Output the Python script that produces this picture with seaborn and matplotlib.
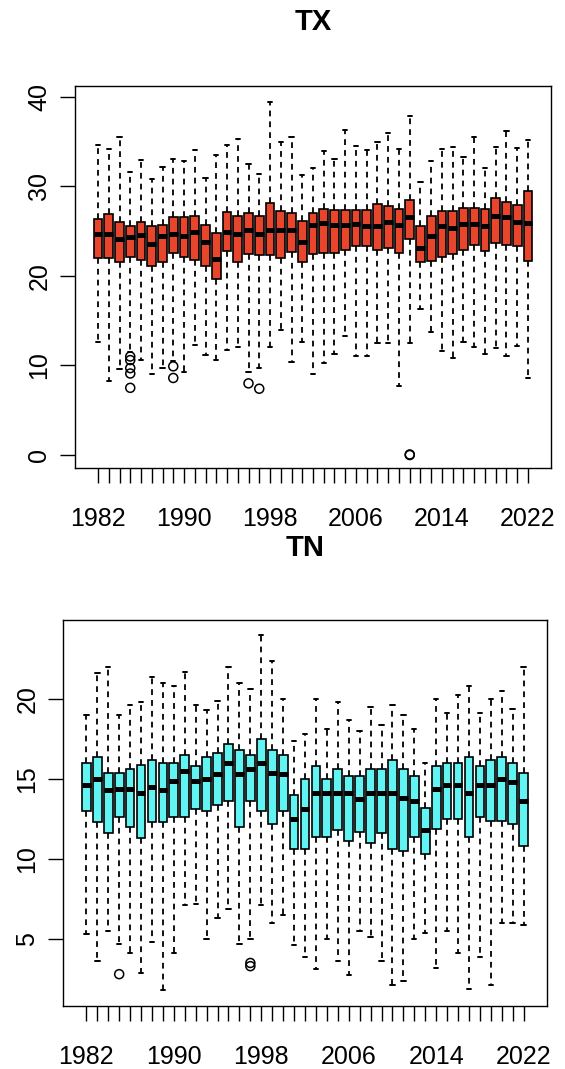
import numpy as np
import pandas as pd
import matplotlib
matplotlib.use("Agg")
import matplotlib.pyplot as plt
import seaborn as sns

sns.set_style("ticks")
plt.rcParams['font.family'] = ['Liberation Sans', 'DejaVu Sans']
plt.rcParams['text.color'] = 'black'
plt.rcParams['xtick.color'] = 'black'
plt.rcParams['ytick.color'] = 'black'
plt.rcParams['axes.edgecolor'] = 'black'

years = list(range(1982, 2023))

# ---- TX (five-number summaries) ----
tx_whishi = [34.6, 34.2, 35.5, 31.6, 32.9, 30.8, 32.2, 33.1, 32.8, 34.1,
             30.9, 33.5, 34.6, 35.3, 32.5, 31.4, 39.4, 34.9, 35.5, 31.3,
             32.1, 33.9, 33.1, 36.3, 34.5, 34.0, 35.0, 36.0, 34.2, 37.8,
             30.5, 32.8, 34.2, 34.4, 33.3, 35.5, 32.1, 34.4, 36.2, 34.3, 35.2]
tx_q3 = [26.4, 26.9, 26.0, 25.6, 26.0, 25.6, 25.7, 26.6, 26.6, 26.7,
         25.7, 24.8, 27.1, 26.7, 27.0, 26.7, 28.1, 27.2, 27.0, 26.1,
         27.0, 27.5, 27.4, 27.4, 27.4, 27.3, 28.0, 27.8, 27.5, 28.5,
         25.6, 26.7, 27.2, 27.2, 27.6, 27.6, 27.5, 28.7, 28.3, 27.9, 29.5]
tx_med = [24.7, 24.7, 24.1, 24.3, 24.6, 23.6, 24.4, 24.7, 24.4, 24.9,
          23.8, 21.9, 24.9, 24.7, 25.1, 24.7, 25.1, 25.1, 25.1, 23.8,
          25.7, 25.9, 25.7, 25.7, 25.8, 25.6, 25.6, 26.0, 25.7, 26.6,
          23.1, 24.4, 25.6, 25.3, 25.8, 25.8, 25.6, 26.7, 26.6, 26.0, 25.9]
tx_q1 = [22.0, 22.0, 21.5, 22.1, 21.8, 21.1, 21.6, 22.6, 22.1, 21.8,
         21.1, 19.7, 22.8, 21.5, 22.4, 22.3, 22.3, 22.0, 22.7, 21.5,
         22.4, 22.6, 22.6, 22.9, 23.3, 23.3, 22.9, 23.1, 22.6, 24.1,
         21.5, 21.7, 22.1, 22.4, 22.9, 23.4, 22.8, 23.7, 23.5, 23.3, 21.7]
tx_whislo = [12.6, 8.3, 9.6, 11.5, 10.6, 9.1, 9.7, 10.5, 9.3, 12.3,
             11.2, 10.6, 11.7, 12.1, 9.3, 9.7, 12.1, 14.0, 10.4, 12.6,
             9.1, 10.3, 11.3, 13.3, 11.0, 11.0, 12.5, 12.5, 7.7, 12.5,
             16.3, 13.7, 11.6, 10.8, 12.6, 12.1, 11.3, 11.9, 11.0, 12.2, 8.6]
tx_out_years = [1985, 1985, 1985, 1985, 1985, 1989, 1989, 1996, 1997, 2011, 2011]
tx_out_vals = [11.0, 10.6, 9.7, 9.1, 7.5, 9.9, 8.6, 8.0, 7.4, 0.0, 0.06]

# ---- TN ----
tn_whishi = [19.0, 21.6, 22.0, 19.0, 19.6, 19.8, 21.4, 21.0, 20.8, 21.7,
             19.6, 19.3, 19.9, 22.0, 21.0, 20.6, 24.0, 22.4, 20.0, 17.4,
             17.8, 20.0, 18.1, 19.8, 18.7, 18.0, 19.5, 18.4, 19.6, 19.0,
             18.1, 16.0, 20.0, 19.1, 20.25, 20.8, 19.1, 20.0, 20.5, 19.4, 22.0]
tn_q3 = [16.0, 16.4, 15.4, 15.4, 15.6, 15.9, 16.2, 16.0, 16.0, 16.5,
         15.8, 16.4, 16.6, 17.2, 16.8, 16.5, 17.5, 16.8, 16.5, 14.0,
         15.0, 15.8, 15.0, 15.6, 15.2, 15.2, 15.6, 15.6, 16.2, 15.6,
         15.2, 13.2, 15.8, 16.0, 16.0, 16.4, 15.8, 16.2, 16.4, 16.0, 15.4]
tn_med = [14.6, 15.0, 14.3, 14.4, 14.4, 14.1, 14.5, 14.3, 14.9, 15.5,
          14.9, 15.0, 15.3, 16.0, 15.3, 15.6, 16.0, 15.4, 15.3, 12.5,
          13.1, 14.1, 14.1, 14.1, 14.1, 13.75, 14.1, 14.1, 14.1, 13.8,
          13.6, 11.8, 14.4, 14.6, 14.6, 14.1, 14.6, 14.6, 15.0, 14.8, 13.6]
tn_q1 = [13.0, 12.3, 11.6, 12.6, 12.0, 11.3, 12.3, 12.3, 12.6, 12.6,
         13.1, 13.0, 13.4, 13.6, 12.0, 13.6, 13.0, 12.2, 13.0, 10.6,
         10.6, 11.4, 11.4, 11.8, 11.1, 11.7, 11.0, 11.6, 10.6, 10.5,
         11.4, 10.3, 11.9, 12.5, 12.5, 11.4, 12.6, 12.4, 12.4, 12.2, 10.8]
tn_whislo = [5.3, 3.6, 5.5, 4.7, 4.1, 2.9, 4.8, 1.8, 4.1, 7.1,
             7.2, 5.0, 6.3, 6.9, 4.7, 5.0, 7.1, 6.0, 6.5, 4.6,
             3.9, 3.1, 5.0, 3.6, 2.75, 5.5, 5.1, 3.6, 2.1, 2.4,
             5.0, 5.35, 3.2, 5.5, 4.1, 1.85, 3.9, 2.1, 6.0, 6.0, 5.9]
tn_out_years = [1985, 1997, 1997]
tn_out_vals = [2.8, 3.5, 3.3]

tx_color = "#E8462C"
tn_color = "#62F3F3"

W, H = 565, 1069
fig = plt.figure(figsize=(W / 100, H / 100), dpi=100)
ax1 = fig.add_axes([75 / W, 1 - 468 / H, (551 - 75) / W, (468 - 86) / H])
ax2 = fig.add_axes([63 / W, 1 - 1006 / H, (547 - 63) / W, (1006 - 620) / H])

FS = 18
labels = [str(y) for y in years]


def panel(ax, lo, q1, med, q3, hi, color, out_years, out_vals, ylim, yticks):
    vals = np.column_stack([lo, q1, med, q3, hi]).ravel()
    df = pd.DataFrame({"year": np.repeat(labels, 5), "value": vals})
    sns.boxplot(data=df, x="year", y="value", order=labels, whis=(0, 100),
                color=color, saturation=1, linecolor="black", linewidth=1.2,
                width=0.8, showfliers=False, ax=ax,
                medianprops=dict(color="black", linewidth=3.6, solid_capstyle="butt"),
                whiskerprops=dict(color="black", linewidth=1.3, linestyle=(0, (3.2, 2.8))),
                capprops=dict(color="black", linewidth=1.4))
    xs = [labels.index(str(y)) for y in out_years]
    ax.scatter(xs, out_vals, s=42, facecolors="none", edgecolors="black",
               linewidths=1.1, zorder=5)
    ax.set_xlim(-2.14, 42.14)
    ax.set_ylim(*ylim)
    ax.set_xlabel("")
    ax.set_ylabel("")
    ax.set_xticks(range(len(years)))
    ax.set_xticklabels([l if i % 8 == 0 else "" for i, l in enumerate(labels)],
                       fontsize=FS, color="black")
    ax.set_yticks(yticks)
    ax.set_yticklabels([str(t) for t in yticks], fontsize=FS, rotation=90,
                       va="center", color="black")
    ax.tick_params(axis="x", length=11, width=1, pad=17, color="black")
    ax.tick_params(axis="y", length=11, width=1, pad=6, color="black")
    for s in ax.spines.values():
        s.set_visible(True)
        s.set_color("black")
        s.set_linewidth(1)


panel(ax1, tx_whislo, tx_q1, tx_med, tx_q3, tx_whishi, tx_color,
      tx_out_years, tx_out_vals, (-1.45, 41.2), [0, 10, 20, 30, 40])
panel(ax2, tn_whislo, tn_q1, tn_med, tn_q3, tn_whishi, tn_color,
      tn_out_years, tn_out_vals, (0.81, 24.94), [5, 10, 15, 20])

fig.text((75 + 551) / 2 / W, 1 - 22 / H, "TX", ha="center", va="center",
         fontsize=21, fontweight="bold", color="black")
fig.text((63 + 547) / 2 / W, 1 - 548 / H, "TN", ha="center", va="center",
         fontsize=21, fontweight="bold", color="black")

fig.savefig("out.png", dpi=100, facecolor="white")
